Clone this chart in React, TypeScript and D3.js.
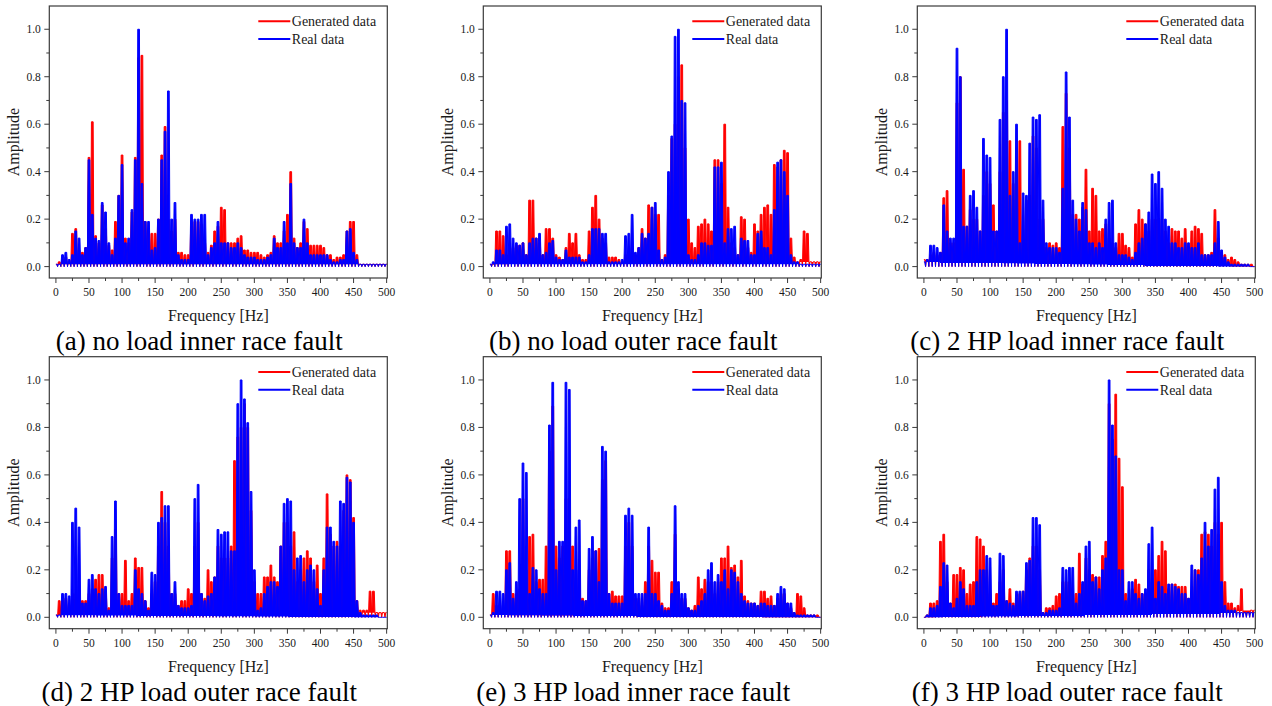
import React from 'react';
import * as d3 from 'd3';

// Frequency grid (Hz) on which the spectra are read, 5 Hz apart
const FREQ_STEP = 5;
const FREQUENCIES: number[] = d3.range(0, 501, FREQ_STEP);

const X_TICKS = [0, 50, 100, 150, 200, 250, 300, 350, 400, 450, 500];
const X_MINOR = [25, 75, 125, 175, 225, 275, 325, 375, 425, 475];
const Y_TICKS = [0, 0.2, 0.4, 0.6, 0.8, 1.0];
const Y_MINOR = [0.1, 0.3, 0.5, 0.7, 0.9];

const SERIES_NAMES = ['Generated data', 'Real data'];
const CAPTIONS = [
  '(a) no load inner race fault',
  '(b) no load outer race fault',
  '(c) 2 HP load inner race fault',
  '(d) 2 HP load outer race fault',
  '(e) 3 HP load inner race fault',
  '(f) 3 HP load outer race fault',
];

// (a) no load inner race fault
const A_GEN = [
  0.01, 0.02, 0.03, 0.04, 0.02, 0.14, 0.16, 0.07, 0.06, 0.08,
  0.46, 0.61, 0.13, 0.10, 0.26, 0.16, 0.09, 0.07, 0.19, 0.30,
  0.47, 0.12, 0.10, 0.23, 0.46, 0.88, 0.89, 0.19, 0.15, 0.14,
  0.14, 0.20, 0.47, 0.59, 0.20, 0.15, 0.20, 0.06, 0.06, 0.05,
  0.05, 0.17, 0.19, 0.19, 0.18, 0.10, 0.06, 0.09, 0.15, 0.17,
  0.25, 0.24, 0.10, 0.10, 0.10, 0.12, 0.13, 0.07, 0.07, 0.06,
  0.06, 0.06, 0.05, 0.04, 0.05, 0.06, 0.13, 0.10, 0.10, 0.15,
  0.22, 0.40, 0.12, 0.08, 0.10, 0.19, 0.16, 0.09, 0.09, 0.09,
  0.09, 0.08, 0.05, 0.05, 0.03, 0.04, 0.04, 0.05, 0.15, 0.19,
  0.19, 0.05, 0.01, 0.01, 0.01, 0.01, 0.01, 0.01, 0.01, 0.01, 0.01,
];
const A_REAL = [
  0.01, 0.01, 0.05, 0.06, 0.03, 0.05, 0.15, 0.12, 0.05, 0.08,
  0.45, 0.22, 0.12, 0.11, 0.27, 0.23, 0.10, 0.05, 0.12, 0.30,
  0.43, 0.10, 0.12, 0.24, 0.45, 1.00, 0.35, 0.19, 0.19, 0.07,
  0.08, 0.20, 0.45, 0.57, 0.74, 0.20, 0.27, 0.05, 0.03, 0.03,
  0.03, 0.22, 0.20, 0.20, 0.22, 0.22, 0.05, 0.08, 0.10, 0.19,
  0.10, 0.10, 0.10, 0.08, 0.08, 0.10, 0.08, 0.05, 0.04, 0.04,
  0.04, 0.03, 0.03, 0.03, 0.04, 0.05, 0.12, 0.08, 0.08, 0.19,
  0.10, 0.35, 0.10, 0.08, 0.08, 0.20, 0.10, 0.05, 0.05, 0.05,
  0.05, 0.05, 0.05, 0.03, 0.02, 0.02, 0.03, 0.03, 0.15, 0.16,
  0.06, 0.03, 0.01, 0.01, 0.01, 0.01, 0.01, 0.01, 0.01, 0.01, 0.01,
];

// (b) no load outer race fault
const B_GEN = [
  0.01, 0.01, 0.15, 0.15, 0.13, 0.05, 0.08, 0.08, 0.09, 0.09,
  0.10, 0.05, 0.28, 0.28, 0.12, 0.10, 0.05, 0.16, 0.16, 0.12,
  0.05, 0.04, 0.03, 0.08, 0.14, 0.10, 0.14, 0.05, 0.03, 0.03,
  0.15, 0.25, 0.30, 0.20, 0.12, 0.10, 0.04, 0.04, 0.04, 0.03,
  0.02, 0.05, 0.06, 0.08, 0.05, 0.08, 0.16, 0.12, 0.26, 0.25,
  0.22, 0.22, 0.03, 0.05, 0.30, 0.54, 0.60, 0.80, 0.85, 0.50,
  0.20, 0.10, 0.08, 0.17, 0.18, 0.20, 0.18, 0.15, 0.45, 0.45,
  0.35, 0.60, 0.25, 0.10, 0.08, 0.05, 0.21, 0.20, 0.08, 0.06,
  0.18, 0.15, 0.22, 0.25, 0.26, 0.22, 0.43, 0.42, 0.45, 0.49,
  0.48, 0.12, 0.04, 0.02, 0.03, 0.15, 0.14, 0.02, 0.02, 0.02, 0.02,
];
const B_REAL = [
  0.01, 0.02, 0.07, 0.07, 0.05, 0.17, 0.18, 0.12, 0.10, 0.09,
  0.10, 0.05, 0.10, 0.12, 0.12, 0.14, 0.05, 0.06, 0.10, 0.11,
  0.04, 0.03, 0.03, 0.07, 0.04, 0.04, 0.04, 0.04, 0.02, 0.02,
  0.05, 0.16, 0.16, 0.16, 0.14, 0.14, 0.02, 0.02, 0.02, 0.02,
  0.03, 0.13, 0.14, 0.22, 0.06, 0.08, 0.14, 0.12, 0.14, 0.25,
  0.27, 0.07, 0.03, 0.04, 0.40, 0.55, 0.97, 1.00, 0.70, 0.69,
  0.05, 0.03, 0.03, 0.05, 0.10, 0.10, 0.09, 0.09, 0.42, 0.42,
  0.44, 0.10, 0.16, 0.16, 0.17, 0.05, 0.12, 0.11, 0.11, 0.05,
  0.05, 0.14, 0.15, 0.08, 0.08, 0.05, 0.24, 0.44, 0.45, 0.40,
  0.30, 0.05, 0.02, 0.02, 0.01, 0.01, 0.01, 0.01, 0.01, 0.01, 0.01,
];

// (c) 2 HP load inner race fault
const C_GEN = [
  0.03, 0.03, 0.05, 0.06, 0.05, 0.06, 0.29, 0.32, 0.10, 0.10,
  0.69, 0.80, 0.41, 0.17, 0.24, 0.20, 0.20, 0.15, 0.30, 0.40,
  0.35, 0.26, 0.15, 0.40, 0.65, 0.70, 0.53, 0.35, 0.50, 0.53,
  0.10, 0.28, 0.30, 0.55, 0.50, 0.20, 0.20, 0.08, 0.10, 0.09,
  0.10, 0.08, 0.59, 0.73, 0.50, 0.22, 0.22, 0.20, 0.25, 0.41,
  0.15, 0.33, 0.30, 0.15, 0.16, 0.18, 0.12, 0.10, 0.08, 0.14,
  0.14, 0.09, 0.08, 0.04, 0.18, 0.24, 0.20, 0.18, 0.15, 0.20,
  0.20, 0.20, 0.20, 0.15, 0.10, 0.16, 0.15, 0.15, 0.12, 0.16,
  0.08, 0.15, 0.17, 0.16, 0.14, 0.05, 0.05, 0.06, 0.24, 0.12,
  0.06, 0.05, 0.03, 0.04, 0.03, 0.02, 0.01, 0.01, 0.01, 0.01, 0.00,
];
const C_REAL = [
  0.02, 0.03, 0.09, 0.09, 0.08, 0.06, 0.26, 0.15, 0.12, 0.12,
  0.92, 0.80, 0.17, 0.17, 0.30, 0.32, 0.25, 0.15, 0.54, 0.47,
  0.46, 0.15, 0.15, 0.62, 0.80, 1.00, 0.30, 0.40, 0.60, 0.10,
  0.31, 0.30, 0.52, 0.63, 0.62, 0.64, 0.28, 0.10, 0.08, 0.08,
  0.08, 0.06, 0.33, 0.82, 0.63, 0.28, 0.20, 0.15, 0.27, 0.24,
  0.10, 0.10, 0.08, 0.10, 0.08, 0.20, 0.27, 0.28, 0.10, 0.05,
  0.05, 0.05, 0.04, 0.03, 0.06, 0.10, 0.12, 0.18, 0.23, 0.39,
  0.35, 0.40, 0.33, 0.20, 0.17, 0.10, 0.10, 0.08, 0.08, 0.10,
  0.10, 0.08, 0.08, 0.10, 0.05, 0.05, 0.05, 0.05, 0.10, 0.19,
  0.07, 0.04, 0.02, 0.01, 0.01, 0.01, 0.01, 0.01, 0.01, 0.00, 0.00,
];

// (d) 2 HP load outer race fault
const D_GEN = [
  0.01, 0.07, 0.07, 0.08, 0.05, 0.10, 0.10, 0.08, 0.07, 0.07,
  0.10, 0.12, 0.16, 0.18, 0.18, 0.10, 0.04, 0.25, 0.37, 0.10,
  0.10, 0.24, 0.07, 0.10, 0.25, 0.21, 0.21, 0.07, 0.04, 0.10,
  0.15, 0.30, 0.53, 0.40, 0.30, 0.10, 0.10, 0.05, 0.07, 0.07,
  0.12, 0.10, 0.30, 0.40, 0.10, 0.08, 0.20, 0.15, 0.17, 0.30,
  0.25, 0.25, 0.25, 0.30, 0.66, 0.76, 0.80, 0.90, 0.80, 0.45,
  0.15, 0.10, 0.10, 0.17, 0.17, 0.22, 0.17, 0.15, 0.30, 0.40,
  0.40, 0.30, 0.36, 0.15, 0.20, 0.25, 0.28, 0.25, 0.15, 0.22,
  0.10, 0.25, 0.52, 0.35, 0.30, 0.32, 0.30, 0.45, 0.60, 0.58,
  0.42, 0.07, 0.03, 0.03, 0.03, 0.11, 0.11, 0.02, 0.02, 0.02, 0.02,
];
const D_REAL = [
  0.01, 0.01, 0.10, 0.10, 0.09, 0.40, 0.46, 0.38, 0.06, 0.06,
  0.16, 0.18, 0.12, 0.10, 0.12, 0.13, 0.03, 0.34, 0.49, 0.10,
  0.05, 0.05, 0.05, 0.05, 0.20, 0.12, 0.10, 0.07, 0.03, 0.19,
  0.18, 0.40, 0.42, 0.47, 0.47, 0.10, 0.15, 0.05, 0.04, 0.04,
  0.04, 0.05, 0.50, 0.56, 0.10, 0.07, 0.09, 0.10, 0.17, 0.37,
  0.35, 0.36, 0.36, 0.28, 0.28, 0.90, 1.00, 0.92, 0.82, 0.53,
  0.20, 0.03, 0.04, 0.10, 0.13, 0.15, 0.15, 0.13, 0.30, 0.48,
  0.50, 0.49, 0.20, 0.25, 0.26, 0.15, 0.20, 0.22, 0.20, 0.12,
  0.05, 0.20, 0.38, 0.38, 0.32, 0.30, 0.49, 0.48, 0.59, 0.57,
  0.40, 0.07, 0.02, 0.01, 0.01, 0.01, 0.01, 0.01, 0.00, 0.00, 0.00,
];

// (e) 3 HP load inner race fault
const E_GEN = [
  0.01, 0.10, 0.05, 0.05, 0.04, 0.28, 0.28, 0.10, 0.10, 0.12,
  0.50, 0.20, 0.34, 0.35, 0.15, 0.16, 0.16, 0.30, 0.70, 0.89,
  0.30, 0.25, 0.30, 0.50, 0.50, 0.30, 0.20, 0.20, 0.08, 0.07,
  0.20, 0.25, 0.28, 0.29, 0.58, 0.66, 0.10, 0.11, 0.09, 0.09,
  0.09, 0.30, 0.40, 0.30, 0.08, 0.08, 0.05, 0.15, 0.30, 0.24,
  0.19, 0.19, 0.06, 0.04, 0.04, 0.15, 0.35, 0.12, 0.08, 0.08,
  0.04, 0.03, 0.05, 0.17, 0.12, 0.16, 0.15, 0.15, 0.10, 0.15,
  0.25, 0.25, 0.30, 0.21, 0.22, 0.17, 0.24, 0.09, 0.07, 0.06,
  0.06, 0.05, 0.11, 0.11, 0.08, 0.09, 0.05, 0.08, 0.10, 0.10,
  0.06, 0.04, 0.02, 0.10, 0.09, 0.04, 0.01, 0.01, 0.01, 0.01, 0.00,
];
const E_REAL = [
  0.01, 0.02, 0.11, 0.11, 0.10, 0.20, 0.23, 0.08, 0.15, 0.50,
  0.65, 0.61, 0.10, 0.21, 0.20, 0.12, 0.10, 0.10, 0.81, 0.99,
  0.20, 0.32, 0.32, 0.99, 0.96, 0.20, 0.38, 0.41, 0.07, 0.07,
  0.29, 0.34, 0.28, 0.15, 0.72, 0.70, 0.10, 0.06, 0.06, 0.06,
  0.06, 0.43, 0.46, 0.43, 0.10, 0.10, 0.10, 0.10, 0.38, 0.10,
  0.10, 0.07, 0.05, 0.03, 0.03, 0.10, 0.47, 0.15, 0.10, 0.10,
  0.04, 0.03, 0.03, 0.05, 0.07, 0.10, 0.20, 0.23, 0.15, 0.18,
  0.15, 0.20, 0.12, 0.20, 0.19, 0.15, 0.10, 0.07, 0.06, 0.06,
  0.06, 0.05, 0.06, 0.06, 0.05, 0.05, 0.05, 0.10, 0.13, 0.12,
  0.06, 0.06, 0.02, 0.01, 0.01, 0.01, 0.01, 0.01, 0.01, 0.00, 0.00,
];

// (f) 3 HP load outer race fault
const F_GEN = [
  0.00, 0.01, 0.06, 0.06, 0.07, 0.32, 0.35, 0.15, 0.06, 0.18,
  0.18, 0.21, 0.20, 0.10, 0.14, 0.15, 0.34, 0.33, 0.30, 0.20,
  0.10, 0.06, 0.10, 0.15, 0.20, 0.07, 0.12, 0.06, 0.08, 0.10,
  0.11, 0.20, 0.25, 0.30, 0.30, 0.20, 0.02, 0.04, 0.04, 0.05,
  0.09, 0.10, 0.15, 0.15, 0.15, 0.10, 0.10, 0.27, 0.14, 0.25,
  0.20, 0.18, 0.17, 0.17, 0.26, 0.32, 0.90, 0.75, 0.94, 0.67,
  0.55, 0.10, 0.08, 0.12, 0.16, 0.14, 0.10, 0.10, 0.20, 0.15,
  0.20, 0.26, 0.32, 0.28, 0.12, 0.14, 0.14, 0.13, 0.13, 0.13,
  0.08, 0.10, 0.20, 0.20, 0.35, 0.36, 0.35, 0.30, 0.40, 0.35,
  0.40, 0.15, 0.06, 0.06, 0.04, 0.05, 0.12, 0.02, 0.02, 0.03, 0.03,
];
const F_REAL = [
  0.00, 0.01, 0.04, 0.04, 0.05, 0.13, 0.23, 0.22, 0.06, 0.04,
  0.08, 0.15, 0.12, 0.05, 0.05, 0.05, 0.15, 0.20, 0.20, 0.26,
  0.25, 0.05, 0.05, 0.27, 0.26, 0.07, 0.06, 0.05, 0.11, 0.11,
  0.11, 0.23, 0.24, 0.42, 0.42, 0.39, 0.02, 0.02, 0.03, 0.03,
  0.03, 0.04, 0.21, 0.20, 0.21, 0.21, 0.06, 0.10, 0.15, 0.30,
  0.32, 0.15, 0.17, 0.12, 0.20, 0.25, 1.00, 0.81, 0.68, 0.20,
  0.20, 0.07, 0.15, 0.15, 0.10, 0.08, 0.10, 0.12, 0.31, 0.38,
  0.08, 0.15, 0.13, 0.10, 0.14, 0.14, 0.13, 0.12, 0.10, 0.10,
  0.08, 0.22, 0.20, 0.18, 0.25, 0.40, 0.30, 0.37, 0.54, 0.59,
  0.15, 0.05, 0.03, 0.03, 0.03, 0.02, 0.02, 0.02, 0.02, 0.02, 0.02,
];

const GEN_SERIES = [A_GEN, B_GEN, C_GEN, D_GEN, E_GEN, F_GEN];
const REAL_SERIES = [A_REAL, B_REAL, C_REAL, D_REAL, E_REAL, F_REAL];

// ---- layout / style ----
const W = 1272;
const H = 706;
const PW = 338;
const PH = 272;
const COL_LEFT = [49.3, 483.3, 917.3];
const ROW_TOP = [6, 356.7];
const SERIF = "'Liberation Serif', 'Times New Roman', Times, serif";
const RED = '#ff0000';
const BLUE = '#0000ff';
const AXIS = '#3a3a3a';
const TEXT = '#1a1a1a';
// half-width (Hz) of the flat top given to each spectral reading
const HALF_TOP = 1.3;

function Panel({ idx }: { idx: number }) {
  const left = COL_LEFT[idx % 3];
  const top = ROW_TOP[Math.floor(idx / 3)];
  const x = d3.scaleLinear().domain([-10, 501]).range([left, left + PW]);
  const y = d3.scaleLinear().domain([-0.048, 1.098]).range([top + PH, top]);
  const line = d3.line<[number, number]>();

  // each reading drawn as a dense spectral cluster, dropping back to the zero line between readings
  const spikePath = (vals: number[]) => {
    const pts: [number, number][] = [];
    vals.forEach((v, i) => {
      const f = FREQUENCIES[i];
      pts.push([x(Math.max(0, f - HALF_TOP)), y(v)]);
      pts.push([x(Math.min(500, f + HALF_TOP)), y(v)]);
      if (i < vals.length - 1) pts.push([x(f + FREQ_STEP / 2), y(0)]);
    });
    return line(pts) || '';
  };

  const clipId = `clip-${idx}`;
  const bottom = top + PH;
  const right = left + PW;
  const legX = left + 209;
  const legY1 = top + 15.3;
  const legY2 = top + 33;

  return (
    <g>
      <defs>
        <clipPath id={clipId}>
          <rect x={left} y={top} width={PW} height={PH} />
        </clipPath>
      </defs>
      <g clipPath={`url(#${clipId})`}>
        <path d={spikePath(GEN_SERIES[idx])} fill={RED} stroke={RED} strokeWidth={1.0} strokeLinejoin="round" />
        <path d={spikePath(REAL_SERIES[idx])} fill={BLUE} stroke={BLUE} strokeWidth={1.0} strokeLinejoin="round" />
      </g>
      <rect x={left} y={top} width={PW} height={PH} fill="none" stroke={AXIS} strokeWidth={1.2} />
      {X_TICKS.map((t) => (
        <g key={`xt${t}`}>
          <line x1={x(t)} x2={x(t)} y1={bottom} y2={bottom + 5} stroke={AXIS} strokeWidth={1} />
          <text x={x(t)} y={bottom + 18} textAnchor="middle" fontFamily={SERIF} fontSize={11.5} fill={TEXT}>
            {t}
          </text>
        </g>
      ))}
      {X_MINOR.map((t) => (
        <line key={`xm${t}`} x1={x(t)} x2={x(t)} y1={bottom} y2={bottom + 3} stroke={AXIS} strokeWidth={1} />
      ))}
      {Y_TICKS.map((t) => (
        <g key={`yt${t}`}>
          <line x1={left - 5} x2={left} y1={y(t)} y2={y(t)} stroke={AXIS} strokeWidth={1} />
          <text x={left - 8.5} y={y(t) + 4} textAnchor="end" fontFamily={SERIF} fontSize={11.5} fill={TEXT}>
            {t.toFixed(1)}
          </text>
        </g>
      ))}
      {Y_MINOR.map((t) => (
        <line key={`ym${t}`} x1={left - 3} x2={left} y1={y(t)} y2={y(t)} stroke={AXIS} strokeWidth={1} />
      ))}
      <text x={(left + right) / 2} y={bottom + 43} textAnchor="middle" fontFamily={SERIF} fontSize={16} fill={TEXT}>
        Frequency [Hz]
      </text>
      <text
        transform={`translate(${left - 30},${(top + bottom) / 2}) rotate(-90)`}
        textAnchor="middle"
        fontFamily={SERIF}
        fontSize={16}
        fill={TEXT}
      >
        Amplitude
      </text>
      <line x1={legX} x2={legX + 32} y1={legY1} y2={legY1} stroke={RED} strokeWidth={2} />
      <text x={legX + 33.5} y={legY1 + 5} fontFamily={SERIF} fontSize={14} fill={TEXT}>
        {SERIES_NAMES[0]}
      </text>
      <line x1={legX} x2={legX + 32} y1={legY2} y2={legY2} stroke={BLUE} strokeWidth={2} />
      <text x={legX + 33.5} y={legY2 + 5} fontFamily={SERIF} fontSize={14} fill={TEXT}>
        {SERIES_NAMES[1]}
      </text>
      <text x={left + 150} y={bottom + 72} textAnchor="middle" fontFamily={SERIF} fontSize={27} fill="#000">
        {CAPTIONS[idx]}
      </text>
    </g>
  );
}

export default function App() {
  return (
    <svg
      width={W}
      height={H}
      viewBox={`0 0 ${W} ${H}`}
      style={{ position: 'absolute', left: 0, top: 0, background: '#fff' }}
    >
      <rect x={0} y={0} width={W} height={H} fill="#fff" />
      {CAPTIONS.map((_, i) => (
        <Panel key={i} idx={i} />
      ))}
    </svg>
  );
}
